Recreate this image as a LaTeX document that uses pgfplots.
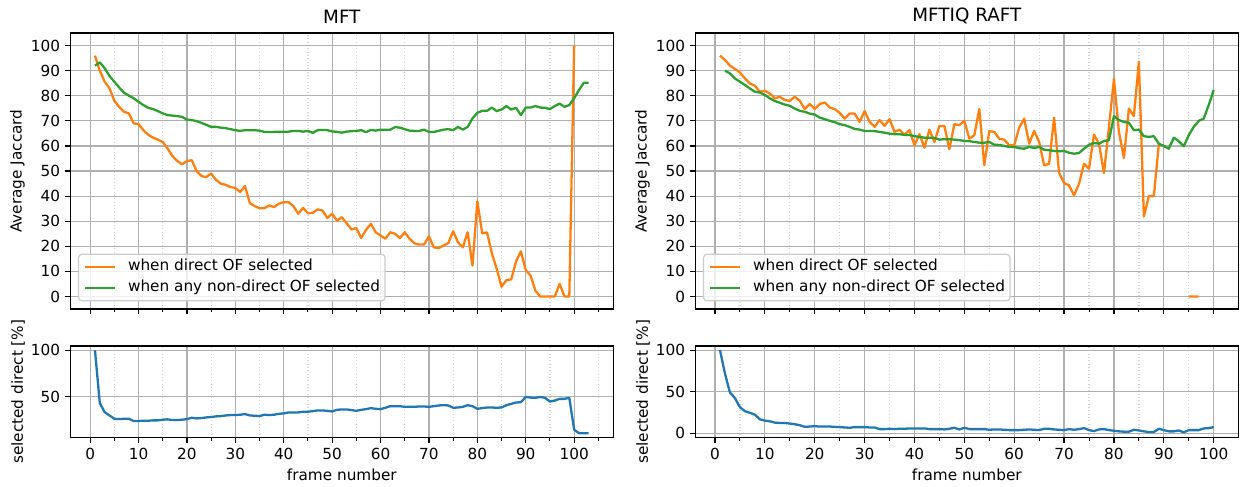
\documentclass[border=0pt]{standalone}
\usepackage{fontspec}
\setmainfont{DejaVu Sans}
\usepackage{pgfplots}
\pgfplotsset{compat=1.18}
\usepackage{pgfplotstable}

\definecolor{c0}{HTML}{1F77B4}
\definecolor{c1}{HTML}{FF7F0E}
\definecolor{c2}{HTML}{2CA02C}
\definecolor{gridc}{HTML}{B0B0B0}
\definecolor{mgridc}{HTML}{D4D4D4}
\definecolor{legc}{HTML}{CCCCCC}

% MFT: frame, direct OF selected, non-direct OF selected
\pgfplotstableread{
f d n
1 96 92
2 90 93.3
3 85.6 91
4 83 87.9
5 78 85.6
6 75.6 83.3
7 73.6 81.2
8 73 80.1
9 69 79
10 68.7 77.6
11 66.3 76.3
12 64.5 75.2
13 63.3 74.7
14 62.5 73.9
15 61.6 73
16 59 72.3
17 56 72.1
18 54 71.9
19 52.7 71.6
20 54 70.5
21 54.3 70.3
22 50 69.9
23 48 69.2
24 47.6 68.4
25 49 67.6
26 46.5 67.6
27 45 67.3
28 44.5 67.1
29 43.6 66.7
30 43.3 66.3
31 41.6 66
32 44 66.3
33 37.2 66.3
34 36 66.3
35 35.2 66.1
36 35.2 65.6
37 36.3 65.6
38 35.6 65.6
39 37 65.7
40 37.6 65.6
41 37.6 65.7
42 36 66
43 33 66
44 35.3 65.7
45 33.2 66
46 33.3 65.2
47 34.7 66.3
48 34.3 66.4
49 31.3 66.3
50 33 65.8
51 30.2 65.6
52 31.6 65.3
53 29.2 65.7
54 26.7 65.9
55 27.3 66
56 23.3 66.3
57 26.5 65.5
58 29 66.4
59 25.6 66.1
60 24.3 66.5
61 23 66.5
62 25.6 66.5
63 25 67.5
64 23.3 67.3
65 25.6 66.7
66 23 66.1
67 21.2 66
68 20.7 66
69 20.7 66.5
70 24 65.6
71 19.6 65.6
72 19.3 66
73 20.3 66.5
74 21.3 66.7
75 26 66.3
76 21.6 67.6
77 19.6 66.5
78 25.6 67.6
79 12.3 71
80 38 73.2
81 25.2 74
82 25.5 74
83 17.2 75.3
84 11 73.9
85 3.9 74.5
86 6.5 75.9
87 6.8 74.5
88 14 75.2
89 18 72.3
90 10.5 75.3
91 8.3 75.3
92 2.3 75.9
93 0 75.3
94 0 75.2
95 0 74.7
96 0 75.9
97 5 76.9
98 0 75.6
99 0 76.3
100 100 79
101 nan 82.3
102 nan 85.2
103 nan 85.2
}\mftjac

% MFTIQ RAFT
\pgfplotstableread{
f d n
1 96 nan
2 94.3 90
3 92 88.9
4 90.7 86.9
5 89.3 85.6
6 86.9 84.3
7 84.9 82.9
8 84 81.6
9 81.6 81.3
10 82 80.3
11 80.9 79
12 79 77.9
13 79.6 77.2
14 78.3 76.5
15 78 76
16 79.6 74.9
17 78 74
18 74.7 73.6
19 76.7 72.9
20 74.7 72.5
21 76.7 71.3
22 77.3 70.7
23 75.3 70
24 74.7 69.5
25 73.2 68.7
26 70.9 68.3
27 72.9 67.6
28 72.9 66.8
29 69.6 66.5
30 73.9 66
31 69.6 66
32 67.6 65.9
33 70.3 65.6
34 68 65.3
35 70.7 64.9
36 65.6 64.7
37 66.5 64.7
38 64.5 64.4
39 66.3 64.4
40 60.3 63.9
41 64.7 63.6
42 59.3 63.3
43 66.5 63.3
44 61.6 63.2
45 68 62.5
46 67.9 62.7
47 58.7 62.7
48 68.7 62.5
49 68.3 62.3
50 70 62
51 62.9 61.9
52 64.3 61.6
53 74.7 61.3
54 52.3 61.3
55 65.9 61.6
56 65.6 60.5
57 62.9 60.4
58 62.5 60
59 60.3 59.6
60 60.3 59.6
61 67.3 59.1
62 70.9 58.9
63 60.9 59.6
64 66 59.2
65 61.6 59.6
66 52.3 58.5
67 52.9 58.3
68 71.3 58
69 49.3 57.9
70 45.2 58
71 44.3 57.3
72 40.3 56.9
73 44.9 57.2
74 52.9 58.9
75 50.9 60.5
76 64.5 61.2
77 60.9 60.9
78 49.2 62
79 67.6 62.3
80 86.7 71.9
81 65.6 70.3
82 55.2 69.6
83 74.9 69.2
84 71.9 66.3
85 93.6 66.5
86 31.9 63.9
87 40 63.6
88 40 63.9
89 60.7 60.9
90 nan 60
91 nan 58.9
92 nan 63.3
93 nan 61.9
94 nan 59.9
95 0 64.3
96 0 67.6
97 0 70
98 nan 70.9
99 nan 76.3
100 nan 82.3
}\raftjac

% share of frames where direct OF was selected
\pgfplotstableread{
f s
1 100
2 42.9
3 33.2
4 29.6
5 26
6 25.7
7 26
8 26
9 23.6
10 23.6
11 23.9
12 23.9
13 24.3
14 24.3
15 25
16 25.4
17 24.6
18 24.6
19 25
20 25.7
21 27.1
22 26.4
23 26.8
24 27.5
25 27.9
26 28.6
27 28.9
28 29.6
29 30
30 30
31 30.4
32 31.1
33 29.6
34 29.3
35 28.9
36 30.4
37 30
38 30.4
39 31.4
40 31.8
41 32.9
42 32.9
43 32.9
44 33.6
45 33.6
46 34.3
47 35
48 35
49 34.6
50 33.9
51 35.7
52 36.1
53 36.1
54 35.4
55 34.6
56 35.7
57 36.4
58 37.5
59 36.8
60 36.4
61 37.9
62 39.6
63 39.6
64 39.6
65 38.9
66 38.9
67 38.9
68 39.3
69 39.3
70 38.9
71 39.6
72 40.4
73 40.7
74 40.4
75 37.9
76 38.2
77 38.9
78 40.7
79 39.6
80 36.8
81 37.5
82 38.2
83 38.2
84 37.9
85 38.2
86 40.7
87 42.1
88 43.6
89 43.9
90 49.6
91 48.9
92 48.6
93 49.6
94 48.6
95 44.6
96 45.7
97 47.5
98 47.5
99 48.6
100 14.3
101 10.4
102 10.4
103 10.4
}\mftsel

\pgfplotstableread{
f s
1 100
2 71.8
3 49
4 42.4
5 31.4
6 26.7
7 24.7
8 22.4
9 16.9
10 15.3
11 14.5
12 12.9
13 12.5
14 12.5
15 11.8
16 11
17 9.8
18 7.8
19 8.2
20 8.6
21 8.2
22 8.2
23 8.2
24 7.8
25 7.5
26 7.1
27 6.7
28 7.5
29 7.5
30 7.5
31 7.1
32 7.1
33 5.1
34 5.1
35 5.5
36 5.1
37 5.5
38 5.5
39 5.9
40 5.9
41 5.9
42 5.9
43 5.1
44 5.1
45 5.1
46 4.7
47 5.5
48 6.7
49 4.7
50 6.7
51 5.1
52 5.1
53 5.1
54 5.1
55 4.3
56 4.7
57 4.7
58 4.3
59 3.9
60 3.9
61 3.9
62 4.3
63 4.7
64 4.3
65 3.9
66 5.5
67 5.5
68 4.7
69 4.3
70 3.9
71 5.1
72 4.3
73 5.1
74 6.3
75 3.9
76 2.7
77 4.7
78 5.1
79 3.9
80 3.1
81 2.4
82 2
83 2
84 4.3
85 3.5
86 2.4
87 1.6
88 1.6
89 5.5
90 3.9
91 2.4
92 2.4
93 3.5
94 1.2
95 3.9
96 3.9
97 3.9
98 5.9
99 6.3
100 7.5
}\raftsel

\pgfplotsset{
  panel/.style={
    scale only axis, width=391pt, anchor=north west,
    xtick={0,10,...,100}, minor xtick={5,15,...,105},
    grid=both,
    major grid style={gridc, line width=0.88pt},
    minor grid style={mgridc, dotted, line width=0.88pt},
    tick align=outside, tick pos=left,
    major tick length=3.85pt, minor tick length=2.2pt,
    major tick style={black, line width=0.88pt},
    minor tick style={black, line width=0.66pt},
    axis line style={line width=0.88pt},
    ticklabel style={font=\fontsize{11}{13}\selectfont},
    label style={font=\fontsize{11}{13}\selectfont},
    ylabel shift=-2.5pt,
    title style={font=\fontsize{13.2}{15}\selectfont, yshift=-3pt},
    /pgf/number format/assume math mode=true,
    unbounded coords=jump,
    every axis plot/.append style={line width=1.65pt, line join=round, no markers},
    legend cell align=left,
    legend image code/.code={\draw[##1] (0pt,0pt) -- (22pt,0pt);},
    legend style={at={(0,0)}, anchor=south west, xshift=5.5pt, yshift=5.5pt,
      draw=legc, line width=0.88pt, rounded corners=2.5pt, fill=white,
      fill opacity=0.8, text opacity=1,
      font=\fontsize{11}{13}\selectfont, row sep=4.5pt,
      nodes={inner sep=0pt, text height=8pt, text depth=2.5pt},
      inner xsep=3.6pt, inner ysep=4pt, column sep=8.4pt},
  },
  toppanel/.style={panel, height=198.7pt, ymin=-5, ymax=105,
    ytick={0,10,...,100}, xticklabels={}, ylabel={Average Jaccard}},
  botpanel/.style={panel, height=65.9pt, xlabel={frame number},
    ylabel={selected direct [\%]}},
}

\begin{document}
\begin{tikzpicture}
\useasboundingbox (0,0) rectangle (893.5pt,-350pt);

\begin{axis}[toppanel, at={(50.6pt,-23.8pt)}, xmin=-4.1, xmax=108.1, title={MFT}]
\addplot[c1] table[x=f, y=d] {\mftjac};
\addlegendentry{when direct OF selected}
\addplot[c2] table[x=f, y=n] {\mftjac};
\addlegendentry{when any non-direct OF selected}
\end{axis}

\begin{axis}[botpanel, at={(50.6pt,-249.1pt)}, xmin=-4.1, xmax=108.1,
  ymin=5.8, ymax=104.6, ytick={50,100}]
\addplot[c0] table[x=f, y=s] {\mftsel};
\end{axis}

\begin{axis}[toppanel, at={(500.6pt,-23.8pt)}, xmin=-3.95, xmax=104.95, title={MFTIQ RAFT}]
\addplot[c1] table[x=f, y=d] {\raftjac};
\addlegendentry{when direct OF selected}
\addplot[c2] table[x=f, y=n] {\raftjac};
\addlegendentry{when any non-direct OF selected}
\end{axis}

\begin{axis}[botpanel, at={(500.6pt,-249.1pt)}, xmin=-3.95, xmax=104.95,
  ymin=-5, ymax=105, ytick={0,50,100}]
\addplot[c0] table[x=f, y=s] {\raftsel};
\end{axis}
\end{tikzpicture}
\end{document}
